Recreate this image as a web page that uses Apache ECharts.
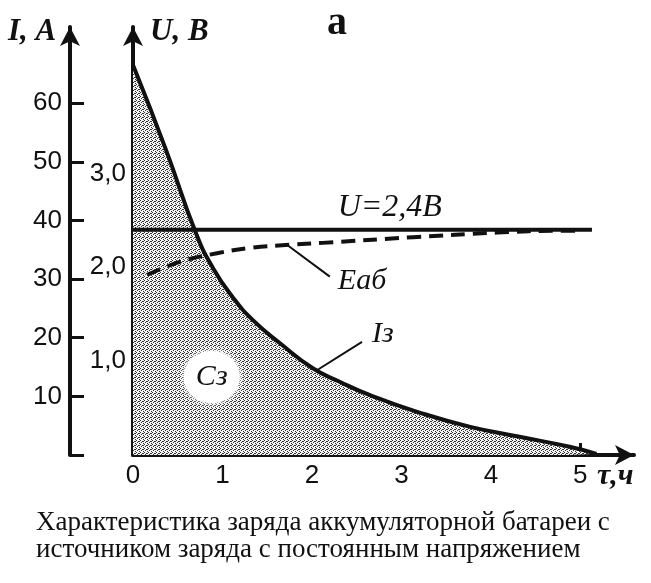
<!DOCTYPE html>
<html>
<head>
<meta charset="utf-8">
<script src="https://cdn.jsdelivr.net/npm/echarts@6/dist/echarts.min.js"></script>
<style>
html,body{margin:0;padding:0;background:#fff;}
#container{width:651px;height:583px;}
</style>
</head>
<body>
<div id="container"></div>
<script>
// время, ч
const hours = [0, 1, 2, 3, 4, 5];
// ток заряда Iз, А
const currentT = [0, 0.37, 0.7, 0.89, 1.12, 1.34, 1.64, 2.01, 2.31, 2.65, 3.21, 3.77, 4.32, 4.88, 5.18];
const currentI = [66.5, 52, 38, 32, 26.8, 23, 19.1, 14.8, 12.5, 10.2, 7.2, 4.8, 3.1, 1.4, 0.2];
// ЭДС батареи Eаб, В
const emfT = [0.16, 0.53, 0.94, 1.34, 1.75, 2.12, 3.13, 4.07, 4.77, 5.0];
const emfU = [1.92, 2.06, 2.15, 2.21, 2.24, 2.26, 2.32, 2.37, 2.39, 2.39];
// напряжение источника
const chargeT = [0, 5.13];
const chargeU = 2.4;
const iTicks = [10, 20, 30, 40, 50, 60];
const uTicks = [1, 2, 3];

const black = '#111';
const serif = 'Liberation Serif';
const sans = 'Liberation Sans';

function stipple() {
    const c = document.createElement('canvas');
    c.width = 4;
    c.height = 4;
    const ctx = c.getContext('2d');
    ctx.fillStyle = '#f2f2f2';
    ctx.fillRect(0, 0, 4, 4);
    ctx.fillStyle = '#333';
    [[0, 0], [2, 1], [1, 2], [3, 3], [3, 1]].forEach(p => ctx.fillRect(p[0], p[1], 1, 1));
    return c;
}

const myChart = echarts.init(document.getElementById('container'));
const axisLine = {
    show: true,
    onZero: false,
    symbol: ['none', 'arrow'],
    symbolSize: [15, 19],
    lineStyle: {color: black, width: 4}
};
const tickStyle = {color: black, width: 3};
const labelStyle = {fontFamily: sans, fontSize: 26, color: black};

myChart.setOption({
    animation: false,
    grid: {left: 133, top: 27, width: 501, height: 428, outerBoundsMode: 'none'},
    xAxis: {
        type: 'value',
        min: 0,
        max: 5.6,
        axisLine: axisLine,
        axisTick: {show: true, inside: true, length: 12, lineStyle: tickStyle, customValues: [1, 2, 3, 4, 5]},
        axisLabel: Object.assign({customValues: hours, margin: 8}, labelStyle),
        splitLine: {show: false}
    },
    yAxis: [
        {
            type: 'value',
            position: 'left',
            offset: 63,
            min: 0,
            max: 73,
            axisLine: axisLine,
            axisTick: {show: true, inside: true, length: 14, lineStyle: tickStyle, customValues: [0].concat(iTicks)},
            axisLabel: Object.assign({customValues: iTicks, margin: 8}, labelStyle),
            splitLine: {show: false}
        },
        {
            type: 'value',
            position: 'left',
            offset: 0,
            min: 0,
            max: 4.56,
            axisLine: axisLine,
            axisTick: {show: true, inside: true, length: 13, lineStyle: tickStyle, customValues: uTicks},
            axisLabel: Object.assign({
                customValues: uTicks,
                margin: 7,
                formatter: v => v.toFixed(1).replace('.', ',')
            }, labelStyle),
            splitLine: {show: false}
        }
    ],
    series: [
        {
            type: 'line',
            yAxisIndex: 0,
            data: currentT.map((t, i) => [t, currentI[i]]),
            smooth: 0.5,
            symbol: 'none',
            lineStyle: {color: black, width: 4},
            areaStyle: {color: {image: stipple(), repeat: 'repeat'}, opacity: 1},
            z: 3
        },
        {
            type: 'line',
            yAxisIndex: 1,
            data: chargeT.map(t => [t, chargeU]),
            symbol: 'none',
            lineStyle: {color: black, width: 4},
            z: 4
        },
        {
            type: 'line',
            yAxisIndex: 1,
            data: emfT.map((t, i) => [t, emfU[i]]),
            smooth: 0.4,
            symbol: 'none',
            lineStyle: {color: black, width: 4, type: [14, 8]},
            z: 4
        },
        {
            type: 'line',
            yAxisIndex: 0,
            data: [[2.06, 14.5], [2.56, 19.3]],
            symbol: 'none',
            lineStyle: {color: black, width: 2},
            endLabel: {show: true, formatter: 'Iз', offset: [2, -8], fontFamily: serif, fontStyle: 'italic', fontSize: 30, color: black},
            z: 5
        },
        {
            type: 'line',
            yAxisIndex: 1,
            data: [[1.72, 2.24], [2.2, 1.9]],
            symbol: 'none',
            lineStyle: {color: black, width: 2},
            endLabel: {show: true, formatter: 'Eаб', offset: [0, 4], fontFamily: serif, fontStyle: 'italic', fontSize: 30, color: black},
            z: 5
        }
    ]
});

const cz = myChart.convertToPixel({xAxisIndex: 0, yAxisIndex: 0}, [0.88, 13.3]);
const uLbl = myChart.convertToPixel({xAxisIndex: 0, yAxisIndex: 1}, [2.87, chargeU]);
const italic = {fontFamily: serif, fontStyle: 'italic', fill: black};

myChart.setOption({
    graphic: [
        {type: 'ellipse', shape: {cx: cz[0], cy: cz[1], rx: 28, ry: 26}, style: {fill: '#fff', shadowBlur: 6, shadowColor: '#fff'}, z: 100},
        {type: 'text', x: cz[0], y: cz[1], z: 101, style: Object.assign({text: 'Cз', fontSize: 30, align: 'center', verticalAlign: 'middle'}, italic)},
        {type: 'text', x: uLbl[0], y: uLbl[1] - 22, z: 101, style: Object.assign({text: 'U=2,4B', fontSize: 32, align: 'center', verticalAlign: 'middle'}, italic)},
        {type: 'text', x: 8, y: 32, z: 101, style: Object.assign({text: 'I, A', fontSize: 31, fontWeight: 'bold', verticalAlign: 'middle'}, italic)},
        {type: 'text', x: 150, y: 32, z: 101, style: Object.assign({text: 'U, B', fontSize: 31, fontWeight: 'bold', verticalAlign: 'middle'}, italic)},
        {type: 'text', x: 597, y: 476, z: 101, style: Object.assign({text: 'τ,ч', fontSize: 30, fontWeight: 'bold', verticalAlign: 'middle'}, italic)},
        {type: 'text', x: 337, y: 24, z: 101, style: {text: 'а', fontFamily: serif, fontWeight: 'bold', fontSize: 40, fill: black, align: 'center', verticalAlign: 'middle'}},
        {type: 'text', x: 36, y: 523, z: 101, style: {text: 'Характеристика заряда аккумуляторной батареи с', fontFamily: serif, fontSize: 27, fill: black, verticalAlign: 'middle'}},
        {type: 'text', x: 36, y: 550, z: 101, style: {text: 'источником заряда с постоянным напряжением', fontFamily: serif, fontSize: 27, fill: black, verticalAlign: 'middle'}}
    ]
});
</script>
</body>
</html>
